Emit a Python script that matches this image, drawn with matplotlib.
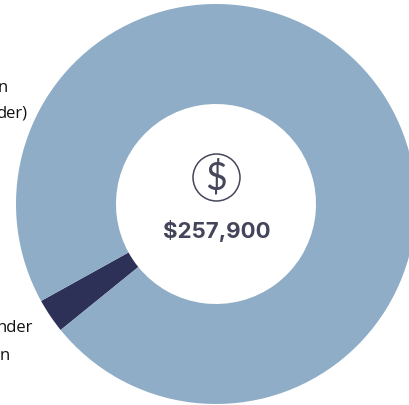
import matplotlib
matplotlib.use("Agg")
import matplotlib.pyplot as plt
from matplotlib.patches import Circle

# Loan amounts behind the donut
slice_values = [7200, 250700]
slice_colors = ["#2E3157", "#8FADC6"]
total_label = "$257,900"
icon_label = "$"

W, H = 409, 405

fig = plt.figure(figsize=(W / 100, H / 100), dpi=100, facecolor="white")
ax = fig.add_axes([0, 0, 1, 1])

# Donut, first slice starts in the lower left
ax.pie(slice_values, colors=slice_colors, startangle=209, counterclock=True,
       center=(216, 201), radius=200,
       wedgeprops=dict(width=100, linewidth=0))

ax.set_xlim(0, W)
ax.set_ylim(0, H)
ax.set_aspect("equal")
ax.axis("off")

# Dollar icon
ax.add_patch(Circle((216.5, 227.5), 23.5, facecolor="none", edgecolor="#45475A", linewidth=1.1))
ax.text(216.5, 227, icon_label, ha="center", va="center", fontsize=27,
        family="Lato", fontweight="normal", color="#45475A")

ax.text(216.5, 174, total_label, ha="center", va="center", fontsize=16,
        family="Inter", fontweight="bold", color="#43455A")

# Side labels running off the left edge
side_font = dict(family="Open Sans", fontsize=12, color="#111111", ha="right", va="baseline")
ax.text(7.5, 405 - 92, "n", **side_font)
ax.text(27.5, 405 - 118, "der)", **side_font)
ax.text(33.5, 405 - 332, "nder", **side_font)
ax.text(10, 405 - 360, "n", **side_font)

fig.savefig("out.png", dpi=100)
